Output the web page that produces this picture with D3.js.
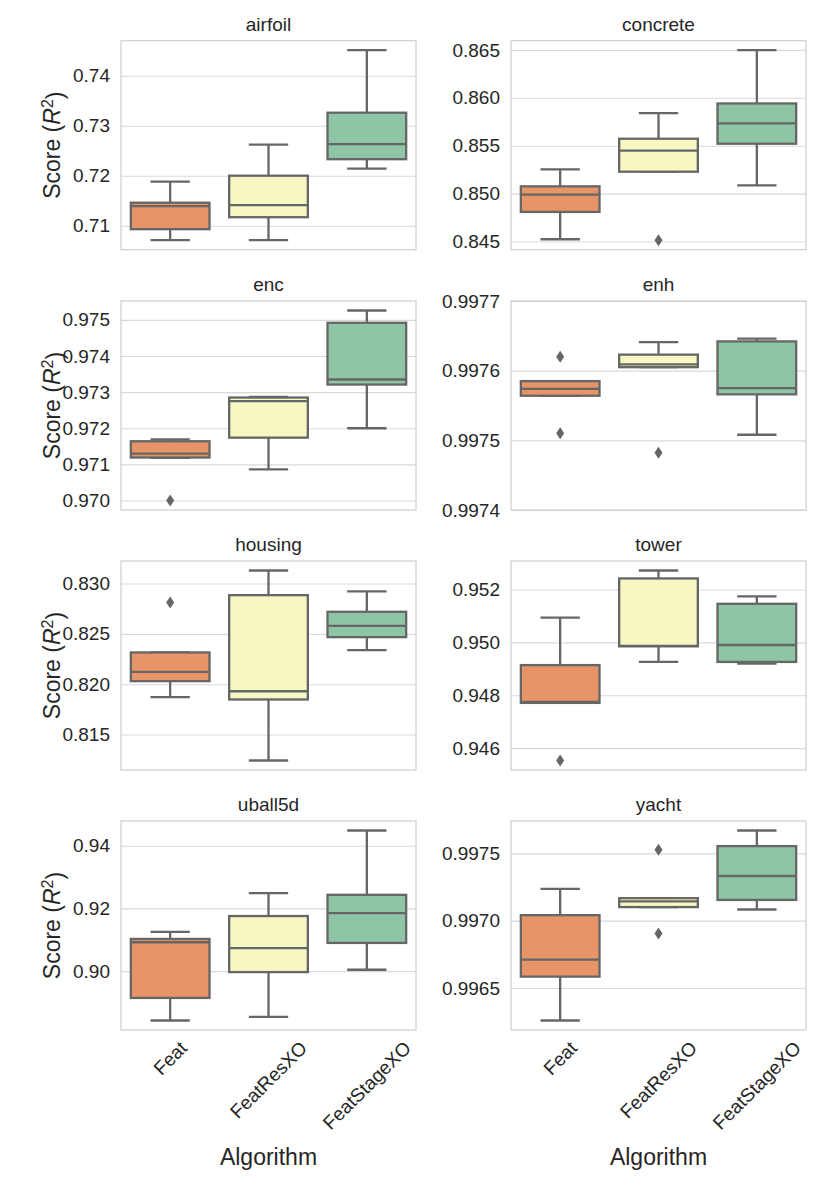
<!DOCTYPE html>
<html>
<head>
<meta charset="utf-8">
<script src="https://cdn.jsdelivr.net/npm/d3@7"></script>
<style>
body { margin: 0; background: #fff; }
text { font-family: "Liberation Sans", Arial, sans-serif; fill: #262626; }
</style>
</head>
<body>
<div id="chart"></div>
<script>
var algorithms = ["Feat", "FeatResXO", "FeatStageXO"];
var datasets = ["airfoil", "concrete", "enc", "enh", "housing", "tower", "uball5d", "yacht"];
var palette = ["#e69468", "#f7f7c4", "#8ec6a5"];

// box stats per algorithm: [lower whisker, q1, median, q3, upper whisker]
var airfoilBoxes  = [[0.7071, 0.7093, 0.7139, 0.7146, 0.7188], [0.7071, 0.7117, 0.7141, 0.7200, 0.7262], [0.7214, 0.7233, 0.7263, 0.7326, 0.7451]];
var concreteBoxes = [[0.84524, 0.84809, 0.84990, 0.85076, 0.85253], [0.85229, 0.85229, 0.85448, 0.85573, 0.85841], [0.85086, 0.85521, 0.85733, 0.85941, 0.86497]];
var encBoxes      = [[0.97118, 0.97119, 0.97130, 0.97164, 0.97169], [0.97086, 0.97174, 0.97275, 0.97285, 0.97287], [0.97200, 0.97321, 0.97335, 0.97492, 0.97526]];
var enhBoxes      = [[0.997564, 0.997564, 0.997574, 0.997585, 0.997585], [0.997605, 0.997605, 0.997609, 0.997623, 0.997641], [0.997508, 0.997566, 0.997575, 0.997642, 0.997646]];
var housingBoxes  = [[0.81871, 0.82030, 0.82123, 0.82315, 0.82315], [0.81242, 0.81848, 0.81930, 0.82884, 0.83129], [0.82338, 0.82467, 0.82579, 0.82719, 0.82921]];
var towerBoxes    = [[0.94771, 0.94771, 0.94775, 0.94914, 0.95094], [0.94926, 0.94985, 0.94987, 0.95242, 0.95272], [0.94920, 0.94926, 0.94990, 0.95146, 0.95174]];
var uball5dBoxes  = [[0.88423, 0.89143, 0.90921, 0.91026, 0.91249], [0.88540, 0.89968, 0.90730, 0.91757, 0.92487], [0.90042, 0.90899, 0.91852, 0.92434, 0.94487]];
var yachtBoxes    = [[0.996258, 0.996584, 0.996710, 0.997041, 0.997236], [0.997101, 0.997101, 0.997144, 0.997167, 0.997167], [0.997083, 0.997154, 0.997332, 0.997554, 0.997670]];

// outliers per algorithm
var airfoilOut  = [[], [], []];
var concreteOut = [[], [0.84514], []];
var encOut      = [[0.97000], [], []];
var enhOut      = [[0.997620, 0.997510], [0.997482], []];
var housingOut  = [[0.82811], [], []];
var towerOut    = [[0.94553], [], []];
var uball5dOut  = [[], [], []];
var yachtOut    = [[], [0.997527, 0.996905], []];

// y tick labels per panel
var airfoilTicks  = ["0.71", "0.72", "0.73", "0.74"];
var concreteTicks = ["0.845", "0.850", "0.855", "0.860", "0.865"];
var encTicks      = ["0.970", "0.971", "0.972", "0.973", "0.974", "0.975"];
var enhTicks      = ["0.9974", "0.9975", "0.9976", "0.9977"];
var housingTicks  = ["0.815", "0.820", "0.825", "0.830"];
var towerTicks    = ["0.946", "0.948", "0.950", "0.952"];
var uball5dTicks  = ["0.90", "0.92", "0.94"];
var yachtTicks    = ["0.9965", "0.9970", "0.9975"];

var enhLimits = [0.9974, 0.9977];  // this panel is not autoscaled

var boxes = [airfoilBoxes, concreteBoxes, encBoxes, enhBoxes, housingBoxes, towerBoxes, uball5dBoxes, yachtBoxes];
var outs = [airfoilOut, concreteOut, encOut, enhOut, housingOut, towerOut, uball5dOut, yachtOut];
var ticks = [airfoilTicks, concreteTicks, encTicks, enhTicks, housingTicks, towerTicks, uball5dTicks, yachtTicks];

var colX = [121, 511],
    rowY = [40.7, 301, 561, 821],
    width = 295,
    height = 209;

var lineColor = "#666666";

var svg = d3.select("#chart")
    .append("svg")
        .attr("width", 830)
        .attr("height", 1186);

var x = d3.scaleBand()
    .domain(algorithms)
    .range([0, width])
    .paddingInner(0.2)
    .paddingOuter(0.1);

var bw = x.bandwidth();
var diamond = "M0,-6L4,0L0,6L-4,0Z";

datasets.forEach(function(name, k) {
    var col = k % 2, row = Math.floor(k / 2);
    var g = svg.append("g")
        .attr("transform", "translate(" + colX[col] + "," + rowY[row] + ")");

    // autoscale like matplotlib: data range plus 5% margin
    var all = [];
    boxes[k].forEach(function(b, i) { all = all.concat(b, outs[k][i]); });
    var lo = d3.min(all), hi = d3.max(all), m = (hi - lo) * 0.05;
    var dom = name == "enh" ? enhLimits : [lo - m, hi + m];

    var y = d3.scaleLinear().domain(dom).range([height, 0]);
    var tv = ticks[k].map(Number);

    // grid
    g.append("g")
        .attr("class", "grid")
        .call(d3.axisLeft(y).tickValues(tv).tickSize(-width).tickFormat(""))
        .call(function(s) {
            s.select(".domain").remove();
            s.selectAll("line").attr("stroke", "#d9d9d9").attr("stroke-width", 1.1);
        });

    // y tick labels
    g.append("g")
        .attr("class", "y-axis")
        .call(d3.axisLeft(y).tickValues(tv).tickSize(0).tickPadding(11)
            .tickFormat(function(d, i) { return ticks[k][i]; }))
        .call(function(s) {
            s.select(".domain").remove();
            s.selectAll("text").style("font-size", "19px").attr("fill", "#262626");
        });

    // spines
    g.append("rect")
        .attr("width", width)
        .attr("height", height)
        .attr("fill", "none")
        .attr("stroke", "#d0d0d0")
        .attr("stroke-width", 1.25);

    // title
    g.append("text")
        .attr("x", width / 2)
        .attr("y", -10)
        .attr("text-anchor", "middle")
        .style("font-size", "19px")
        .text(name);

    // boxes
    boxes[k].forEach(function(b, i) {
        var a = algorithms[i];
        var cx = x(a) + bw / 2;
        var bg = g.append("g")
            .attr("stroke", lineColor)
            .attr("stroke-width", 2.3);

        bg.append("line").attr("x1", cx).attr("x2", cx).attr("y1", y(b[0])).attr("y2", y(b[1]));
        bg.append("line").attr("x1", cx).attr("x2", cx).attr("y1", y(b[3])).attr("y2", y(b[4]));
        bg.append("line").attr("x1", cx - bw / 4).attr("x2", cx + bw / 4).attr("y1", y(b[0])).attr("y2", y(b[0]));
        bg.append("line").attr("x1", cx - bw / 4).attr("x2", cx + bw / 4).attr("y1", y(b[4])).attr("y2", y(b[4]));

        bg.append("rect")
            .attr("x", x(a))
            .attr("y", y(b[3]))
            .attr("width", bw)
            .attr("height", y(b[1]) - y(b[3]))
            .attr("fill", palette[i]);

        bg.append("line").attr("x1", x(a)).attr("x2", x(a) + bw).attr("y1", y(b[2])).attr("y2", y(b[2]));

        outs[k][i].forEach(function(v) {
            g.append("path")
                .attr("d", diamond)
                .attr("transform", "translate(" + cx + "," + y(v) + ")")
                .attr("fill", lineColor);
        });
    });

    // y label on left column
    if (col == 0) {
        var lab = g.append("text")
            .attr("transform", "translate(-61," + (height / 2) + ") rotate(-90)")
            .attr("text-anchor", "middle")
            .style("font-size", "23px");
        lab.append("tspan").text("Score (");
        lab.append("tspan").style("font-style", "italic").text("R");
        lab.append("tspan").attr("dy", "-0.45em").style("font-size", "16px").text("2");
        lab.append("tspan").attr("dy", "0.45em").text(")");
    }

    // x axis on bottom row
    if (row == 3) {
        var xa = g.append("g")
            .attr("class", "x-axis")
            .attr("transform", "translate(0," + height + ")")
            .call(d3.axisBottom(x).tickSize(0).tickPadding(0));
        xa.select(".domain").remove();
        xa.selectAll("text")
            .style("font-size", "19px")
            .attr("fill", "#262626")
            .attr("text-anchor", "middle")
            .attr("y", 0)
            .attr("dy", "0.35em")
            .each(function() {
                var w = this.getComputedTextLength();
                var half = (w + 16) * Math.SQRT1_2 / 2;
                d3.select(this).attr("transform", "translate(0," + (9 + half) + ") rotate(-45)");
            });

        g.append("text")
            .attr("x", width / 2)
            .attr("y", 1165 - rowY[3])
            .attr("text-anchor", "middle")
            .style("font-size", "23px")
            .text("Algorithm");
    }
});
</script>
</body>
</html>
